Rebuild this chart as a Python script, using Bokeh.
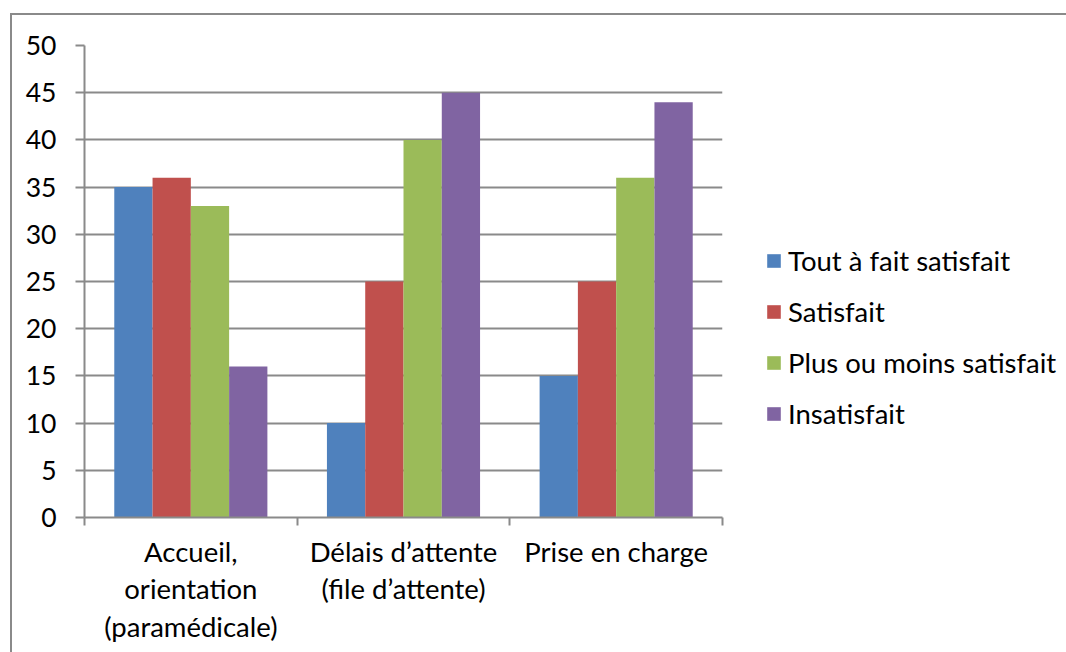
from bokeh.plotting import figure
from bokeh.layouts import row
from bokeh.models import Range1d, FixedTicker, Legend, LegendItem
from bokeh.embed import file_html
from bokeh.resources import INLINE
import numpy as np

# Survey results per service aspect
categories = ["Accueil,\norientation\n(paramédicale)",
              "Délais d’attente\n(file d’attente)",
              "Prise en charge"]
series = ["Tout à fait satisfait", "Satisfait", "Plus ou moins satisfait", "Insatisfait"]
tout_a_fait_satisfait = [35, 10, 15]
satisfait = [36, 25, 25]
plus_ou_moins_satisfait = [33, 40, 36]
insatisfait = [16, 45, 44]
y_ticks = list(range(0, 55, 5))

colors = ["#4F81BD", "#C0504D", "#9BBB59", "#8064A2"]
FONT = "Lato"
GRID = "#8a8a8a"

# --- bar chart -------------------------------------------------------------
p = figure(width=712, height=637,
           x_range=Range1d(0.5, 3.5), y_range=Range1d(0, 50),
           output_backend="svg", toolbar_location=None,
           min_border_left=72, min_border_top=30,
           min_border_right=2, min_border_bottom=135)
p.outline_line_color = None
p.background_fill_color = "white"
p.border_fill_color = "white"

x_pos = np.arange(1, len(categories) + 1)
bar_w = 0.18
values = [tout_a_fait_satisfait, satisfait, plus_ou_moins_satisfait, insatisfait]
for j, (vals, col) in enumerate(zip(values, colors)):
    p.vbar(x=x_pos + (j - 1.5) * bar_w, top=vals, width=bar_w,
           fill_color=col, line_color=None)

# y axis
p.yaxis.ticker = FixedTicker(ticks=y_ticks)
p.yaxis.major_tick_out = 9
p.yaxis.major_tick_in = 0
p.yaxis.minor_tick_line_color = None
p.yaxis.axis_line_color = GRID
p.yaxis.axis_line_width = 2
p.yaxis.major_tick_line_color = GRID
p.yaxis.major_tick_line_width = 2
p.yaxis.major_label_text_font = FONT
p.yaxis.major_label_text_font_size = "26.5px"
p.yaxis.major_label_text_color = "black"
p.yaxis.major_label_standoff = 19

# x axis: labels at category centres, tick marks on category boundaries
p.xaxis.ticker = FixedTicker(ticks=list(x_pos),
                             minor_ticks=list(np.arange(0.5, len(categories) + 1, 1.0)))
p.xaxis.major_label_overrides = {int(i): c for i, c in zip(x_pos, categories)}
p.xaxis.major_tick_out = 0
p.xaxis.major_tick_in = 0
p.xaxis.minor_tick_out = 8
p.xaxis.minor_tick_in = 0
p.xaxis.minor_tick_line_color = GRID
p.xaxis.minor_tick_line_width = 2
p.xaxis.axis_line_color = GRID
p.xaxis.axis_line_width = 2
p.xaxis.major_label_text_font = FONT
p.xaxis.major_label_text_font_size = "27.5px"
p.xaxis.major_label_text_color = "black"
p.xaxis.major_label_text_line_height = 1.14
p.xaxis.major_label_standoff = 9

p.xgrid.visible = False
p.ygrid.grid_line_color = GRID
p.ygrid.grid_line_width = 2

# --- legend panel ------------------------------------------------------------
q = figure(width=342, height=637, x_axis_type=None, y_axis_type=None,
           x_range=Range1d(0.5, 3.5), y_range=Range1d(0, 50),
           output_backend="svg", toolbar_location=None,
           min_border=0)
q.outline_line_color = None
q.grid.visible = False
items = []
for j, (vals, name, col) in enumerate(zip(values, series, colors)):
    r = q.vbar(x=x_pos + (j - 1.5) * bar_w, top=vals, width=bar_w,
               fill_color=col, line_color=None, visible=False)
    items.append(LegendItem(label=name, renderers=[r]))

legend = Legend(items=items, location=(41, 87),
                padding=0, margin=0, border_line_color=None,
                background_fill_alpha=0,
                glyph_width=17, glyph_height=17,
                label_height=34, spacing=17, label_standoff=6,
                label_text_font=FONT, label_text_font_size="27.5px",
                label_text_color="black")
q.add_layout(legend)

layout = row(p, q)
layout.styles = {"margin-left": "10px", "margin-top": "13px",
                 "border-left": "2px solid #8a8a8a", "border-top": "2px solid #8a8a8a"}

open("out.html", "w").write(file_html(layout, INLINE))
